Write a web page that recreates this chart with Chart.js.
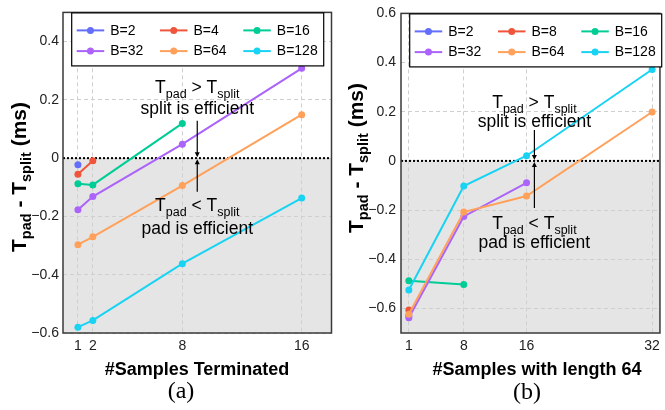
<!DOCTYPE html>
<html><head><meta charset="utf-8">
<script src="https://cdn.jsdelivr.net/npm/chart.js@4"></script>
<style>
html,body{margin:0;padding:0;background:#fff;}
#wrap{position:relative;width:665px;height:410px;overflow:hidden;}
#a{position:absolute;left:0;top:0;}
#b{position:absolute;left:335px;top:0;}
</style></head><body>
<div id="wrap"><canvas id="a" width="335" height="410"></canvas><canvas id="b" width="330" height="410"></canvas></div>
<script>
const COLORS = ['#636EFA','#EF553B','#00CC96','#AB63FA','#FFA15A','#19D3F3'];

// ---- Chart (a): #Samples Terminated ----
const catsA = [1, 2, 8, 16];
const namesA = ['B=2','B=4','B=16','B=32','B=64','B=128'];
const a_B2   = [-0.023, null, null, null];
const a_B4   = [-0.055, -0.009, null, null];
const a_B16  = [-0.088, -0.092, 0.119, null];
const a_B32  = [-0.177, -0.132, 0.048, 0.308];
const a_B64  = [-0.297, -0.270, -0.094, 0.149];
const a_B128 = [-0.580, -0.557, -0.362, -0.137];
const xTicksA = [1, 2, 8, 16];
const yTicksA = [-0.6, -0.4, -0.2, 0, 0.2, 0.4];

// ---- Chart (b): #Samples with length 64 ----
const catsB = [1, 8, 16, 32];
const namesB = ['B=2','B=8','B=16','B=32','B=64','B=128'];
const b_B2   = [-0.630, null, null, null];
const b_B8   = [-0.606, null, null, null];
const b_B16  = [-0.487, -0.503, null, null];
const b_B32  = [-0.638, -0.226, -0.089, null];
const b_B64  = [-0.624, -0.208, -0.143, 0.199];
const b_B128 = [-0.525, -0.102, 0.021, 0.372];
const xTicksB = [1, 8, 16, 32];
const yTicksB = [-0.6, -0.4, -0.2, 0, 0.2, 0.4, 0.6];

const FONT = '"Liberation Sans", Arial, sans-serif';

function fmtTick(v) {
  if (Math.abs(v) < 1e-9) return '0';
  return (v < 0 ? '\u2212' : '') + Math.abs(v).toFixed(1);
}

function drawParts(ctx, parts, cx, cy, size, subSize, subOff, weight) {
  let w = 0;
  parts.forEach(p => {
    ctx.font = weight + ' ' + (p.sub ? subSize : size) + 'px ' + FONT;
    p.w = ctx.measureText(p.t).width; w += p.w;
  });
  let x = cx - w / 2;
  ctx.textAlign = 'left';
  ctx.textBaseline = 'alphabetic';
  parts.forEach(p => {
    ctx.font = weight + ' ' + (p.sub ? subSize : size) + 'px ' + FONT;
    ctx.fillText(p.t, x, cy + (p.sub ? subOff : 0));
    x += p.w;
  });
}

function build(id, o) {
  const datasets = o.series.map((vals, i) => ({
    label: o.names[i],
    data: vals.map((v, j) => v === null ? null : {x: o.cats[j], y: v}).filter(p => p),
    borderColor: COLORS[i], backgroundColor: COLORS[i],
    borderWidth: 2, pointRadius: 3.5, pointBorderWidth: 0, pointHoverRadius: 3.5,
    order: -i, tension: 0, fill: false
  }));
  const deco = {
    id: 'deco',
    beforeDraw(chart) {
      const {ctx, chartArea: a, scales: {y}} = chart;
      const y0 = y.getPixelForValue(0);
      ctx.save();
      ctx.fillStyle = '#fff';
      ctx.fillRect(0, 0, chart.width, chart.height);
      ctx.fillStyle = '#e5e5e5';
      ctx.fillRect(a.left, y0, a.right - a.left, a.bottom - y0);
      ctx.restore();
    },
    beforeDatasetsDraw(chart) {
      const {ctx, chartArea: a, scales: {y}} = chart;
      const y0 = y.getPixelForValue(0);
      ctx.save();
      ctx.strokeStyle = '#000'; ctx.lineWidth = 2; ctx.setLineDash([2, 2]);
      ctx.beginPath(); ctx.moveTo(a.left, y0); ctx.lineTo(a.right, y0); ctx.stroke();
      ctx.setLineDash([]);
      ctx.strokeStyle = '#3a3a3a'; ctx.lineWidth = 1.5;
      ctx.strokeRect(a.left, a.top, a.right - a.left, a.bottom - a.top);
      ctx.restore();
    },
    afterDraw(chart) {
      const {ctx, chartArea: a, scales: {x, y}} = chart;
      const y0 = y.getPixelForValue(0);
      const ax = x.getPixelForValue(o.arrowX);
      ctx.save();
      // arrows
      ctx.strokeStyle = '#000'; ctx.fillStyle = '#000'; ctx.lineWidth = 1.2;
      ctx.beginPath(); ctx.moveTo(ax, o.arrowTop); ctx.lineTo(ax, y0 - 3); ctx.stroke();
      ctx.beginPath(); ctx.moveTo(ax, y0 + 3); ctx.lineTo(ax, o.arrowBot); ctx.stroke();
      ctx.beginPath(); ctx.moveTo(ax, y0 - 1); ctx.lineTo(ax - 2.5, y0 - 6); ctx.lineTo(ax + 2.5, y0 - 6); ctx.closePath(); ctx.fill();
      ctx.beginPath(); ctx.moveTo(ax, y0 + 1); ctx.lineTo(ax - 2.5, y0 + 6); ctx.lineTo(ax + 2.5, y0 + 6); ctx.closePath(); ctx.fill();
      // annotation texts
      const S = 17.5, SS = 12.5, SO = 4.5;
      drawParts(ctx, [{t:'T'},{t:'pad',sub:true},{t:' > T'},{t:'split',sub:true}], ax, o.txt[0], S, SS, SO, 'normal');
      drawParts(ctx, [{t:'split is efficient'}], ax, o.txt[1], S, SS, SO, 'normal');
      drawParts(ctx, [{t:'T'},{t:'pad',sub:true},{t:' < T'},{t:'split',sub:true}], ax, o.txt[2], S, SS, SO, 'normal');
      drawParts(ctx, [{t:'pad is efficient'}], ax, o.txt[3], S, SS, SO, 'normal');
      // legend
      const bx = a.left + 8.7, by = a.top + 0.5, bw = 252, bh = 53;
      ctx.fillStyle = '#fff'; ctx.fillRect(bx, by, bw, bh);
      ctx.strokeStyle = '#000'; ctx.lineWidth = 1.2; ctx.strokeRect(bx, by, bw, bh);
      o.names.forEach((n, i) => {
        const col = i % 3, row = Math.floor(i / 3);
        const lx = bx + 5 + col * 83.3, ly = by + 17.5 + row * 20.7;
        ctx.strokeStyle = COLORS[i]; ctx.lineWidth = 2;
        ctx.beginPath(); ctx.moveTo(lx, ly); ctx.lineTo(lx + 27.5, ly); ctx.stroke();
        ctx.fillStyle = COLORS[i];
        ctx.beginPath(); ctx.arc(lx + 13.75, ly, 3.5, 0, Math.PI * 2); ctx.fill();
        ctx.fillStyle = '#000'; ctx.font = '14px ' + FONT;
        ctx.textAlign = 'left'; ctx.textBaseline = 'middle';
        ctx.fillText(n, lx + 33.5, ly + 0.5);
      });
      // y title (rotated)
      ctx.fillStyle = '#000';
      ctx.save();
      ctx.translate(o.yTitle[0], o.yTitle[1]);
      ctx.rotate(-Math.PI / 2);
      drawParts(ctx, [{t:'T'},{t:'pad',sub:true},{t:' - T'},{t:'split',sub:true},{t:' (ms)'}], 0, 0, 21, 14.5, 5, 'bold');
      ctx.restore();
      // x title
      ctx.font = 'bold 18px ' + FONT; ctx.textAlign = 'center'; ctx.textBaseline = 'middle';
      ctx.fillText(o.xTitle, o.xTitlePos[0], o.xTitlePos[1]);
      ctx.font = '24px "Liberation Serif", "Times New Roman", serif';
      ctx.fillText(o.sub, o.subPos[0], o.subPos[1]);
      ctx.restore();
    }
  };
  return new Chart(document.getElementById(id), {
    type: 'line',
    data: {datasets},
    options: {
      responsive: false, animation: false, devicePixelRatio: 1,
      layout: {padding: o.pad},
      plugins: {legend: {display: false}, tooltip: {enabled: false}, title: {display: false}},
      scales: {
        x: {
          type: 'linear', min: o.xMin, max: o.xMax,
          afterBuildTicks: s => { s.ticks = o.xTicks.map(v => ({value: v})); },
          afterFit: s => { s.height = o.xAxisH; },
          grid: {color: '#cfcfcf', lineWidth: 1, drawTicks: false},
          border: {display: false, dash: [4, 3]},
          ticks: {color: '#222', font: {family: FONT, size: 14}, padding: 5, maxRotation: 0,
                  callback: v => String(v)}
        },
        y: {
          type: 'linear', min: o.yMin, max: o.yMax,
          afterBuildTicks: s => { s.ticks = o.yTicks.map(v => ({value: v})); },
          afterFit: s => { s.width = o.yAxisW; },
          grid: {color: '#cfcfcf', lineWidth: 1, drawTicks: false},
          border: {display: false, dash: [4, 3]},
          ticks: {color: '#222', font: {family: FONT, size: 14}, padding: o.yPad, callback: v => fmtTick(v)}
        }
      }
    },
    plugins: [deco]
  });
}

build('a', {
  cats: catsA, names: namesA, series: [a_B2, a_B4, a_B16, a_B32, a_B64, a_B128],
  xMin: 0, xMax: 18, yMin: -0.6, yMax: 0.5, xTicks: xTicksA, yTicks: yTicksA,
  pad: {left: 0, right: 3, top: 5, bottom: 0}, yAxisW: 63, xAxisH: 77, yPad: 4,
  arrowX: 9, arrowTop: 120.7, arrowBot: 191.7, txt: [93, 114, 211, 234],
  yTitle: [26, 177], xTitle: '#Samples Terminated', xTitlePos: [197, 370],
  sub: '(a)', subPos: [181, 392]
});
build('b', {
  cats: catsB, names: namesB, series: [b_B2, b_B8, b_B16, b_B32, b_B64, b_B128],
  xMin: 0, xMax: 33, yMin: -0.7, yMax: 0.6, xTicks: xTicksB, yTicks: yTicksB,
  pad: {left: 0, right: 1, top: 13, bottom: 0}, yAxisW: 66, xAxisH: 77, yPad: 5,
  arrowX: 17, arrowTop: 130, arrowBot: 208, txt: [108, 127, 229, 248],
  yTitle: [28, 158], xTitle: '#Samples with length 64', xTitlePos: [202, 370],
  sub: '(b)', subPos: [192, 393]
});
</script>
</body></html>
